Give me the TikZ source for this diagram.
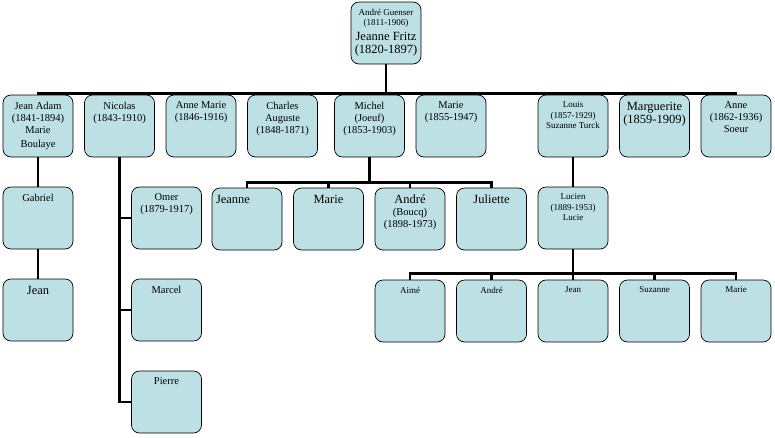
\documentclass[tikz,border=0pt]{standalone}
\usepackage{fontspec}
\setmainfont{Liberation Serif}
\usepackage{tikz}
\usetikzlibrary{positioning}

\definecolor{boxblue}{RGB}{188,224,228}
\newcommand{\smallname}{\fontsize{9}{10.5}\selectfont}
\newcommand{\mainname}{\fontsize{10.5}{12}\selectfont}
\newcommand{\bigname}{\fontsize{12.5}{13.5}\selectfont}
% text sits at the top of each box
\newcommand{\famtext}[2][\centering]{\parbox[c][48pt][t]{66pt}{#1\mainname #2}}

\begin{document}
\begin{tikzpicture}[node distance=29.3pt and 10.8pt,
		box/.style={draw, line width=0.7pt, rounded corners=8pt, fill=boxblue,
			inner sep=0pt, minimum width=70pt, minimum height=62pt},
		link/.style={draw, line width=2.6pt}]
		\useasboundingbox (0,0) rectangle (775pt,-437pt);

		\node[box] (guenser) at (386pt,-33pt) {\famtext{{\smallname André Guenser\\(1811-1906)\par}\vspace{1pt}\bigname Jeanne Fritz\\(1820-1897)}};

		\node[box] (jeanadam) at (38pt,-126pt) {\famtext{Jean Adam\\(1841-1894)\\Marie\\[2pt]Boulaye}};
		\node[box, right=of {jeanadam}] (nicolas) {\famtext{Nicolas\\(1843-1910)}};
		\node[box, right=of {nicolas}] (annemarie) {\famtext{Anne Marie\\(1846-1916)}};
		\node[box, right=of {annemarie}] (charles) {\famtext{Charles\\Auguste\\(1848-1871)}};
		\node[box, right=16.3pt of {charles}] (michel) {\famtext{Michel\\(Joeuf)\\(1853-1903)}};
		\node[box, right=of {michel}] (marie) {\famtext{Marie\\(1855-1947)}};
		\node[box, right=51.3pt of {marie}] (louis) {\famtext{\smallname Louis\\(1857-1929)\\Suzanne Turck}};
		\node[box, right=of {louis}] (marguerite) {\famtext{\bigname Marguerite\\(1859-1909)}};
		\node[box, right=of {marguerite}] (anne) {\famtext{Anne\\(1862-1936)\\Soeur}};

		\node[box, below=of {jeanadam}] (gabriel) {\famtext{Gabriel}};
		\node[box, below=of {gabriel}] (jean) {\famtext{\bigname Jean}};

		\node[box, below=of {nicolas}, xshift=47pt] (omer) {\famtext{Omer\\(1879-1917)}};
		\node[box, below=of {omer}] (marcel) {\famtext{Marcel}};
		\node[box, below=of {marcel}] (pierre) {\famtext{Pierre}};

		\node[box, below=30.3pt of {michel}, xshift=-41pt] (mariem) {\famtext{\bigname Marie}};
		\node[box, left=of {mariem}] (jeanne) {\famtext[\raggedright\hspace*{2pt}]{\bigname Jeanne}};
		\node[box, right=of {mariem}] (andreb) {\famtext{\bigname André\\\mainname (Boucq)\\(1898-1973)}};
		\node[box, right=of {andreb}] (juliette) {\famtext{\bigname Juliette}};

		\node[box, below=of {louis}] (lucien) {\famtext{\smallname Lucien\\(1889-1953)\\Lucie}};

		\node[box, below=30.3pt of {lucien}] (jeanl) {\famtext{\smallname Jean}};
		\node[box, left=of {jeanl}] (andrel) {\famtext{\smallname André}};
		\node[box, left=of {andrel}] (aime) {\famtext{\smallname Aimé}};
		\node[box, right=of {jeanl}] (suzanne) {\famtext{\smallname Suzanne}};
		\node[box, right=of {suzanne}] (mariel) {\famtext{\smallname Marie}};

		% first generation
		\draw[link] (guenser.south) -- ++(0,-29pt) -| (jeanadam.north);
		\draw[link] (guenser.south) -- ++(0,-29pt) -| (nicolas.north);
		\draw[link] (guenser.south) -- ++(0,-29pt) -| (annemarie.north);
		\draw[link] (guenser.south) -- ++(0,-29pt) -| (charles.north);
		\draw[link] (guenser.south) -- ++(0,-29pt) -| (michel.north);
		\draw[link] (guenser.south) -- ++(0,-29pt) -| (marie.north);
		\draw[link] (guenser.south) -- ++(0,-29pt) -| (louis.north);
		\draw[link] (guenser.south) -- ++(0,-29pt) -| (marguerite.north);
		\draw[link] (guenser.south) -- ++(0,-29pt) -| (anne.north);

		\draw[link] (jeanadam.south) -- (gabriel.north);
		\draw[link] (gabriel.south) -- (jean.north);

		\draw[link] (nicolas.south) |- (omer.west);
		\draw[link] (nicolas.south) |- (marcel.west);
		\draw[link] (nicolas.south) |- (pierre.west);

		\draw[link] (michel.south) -- ++(0,-25pt) -| (jeanne.north);
		\draw[link] (michel.south) -- ++(0,-25pt) -| (mariem.north);
		\draw[link] (michel.south) -- ++(0,-25pt) -| (andreb.north);
		\draw[link] (michel.south) -- ++(0,-25pt) -| (juliette.north);

		\draw[link] (louis.south) -- (lucien.north);

		\draw[link] (lucien.south) -- ++(0,-24pt) -| (aime.north);
		\draw[link] (lucien.south) -- ++(0,-24pt) -| (andrel.north);
		\draw[link] (lucien.south) -- ++(0,-24pt) -| (jeanl.north);
		\draw[link] (lucien.south) -- ++(0,-24pt) -| (suzanne.north);
		\draw[link] (lucien.south) -- ++(0,-24pt) -| (mariel.north);
	\end{tikzpicture}
\end{document}
